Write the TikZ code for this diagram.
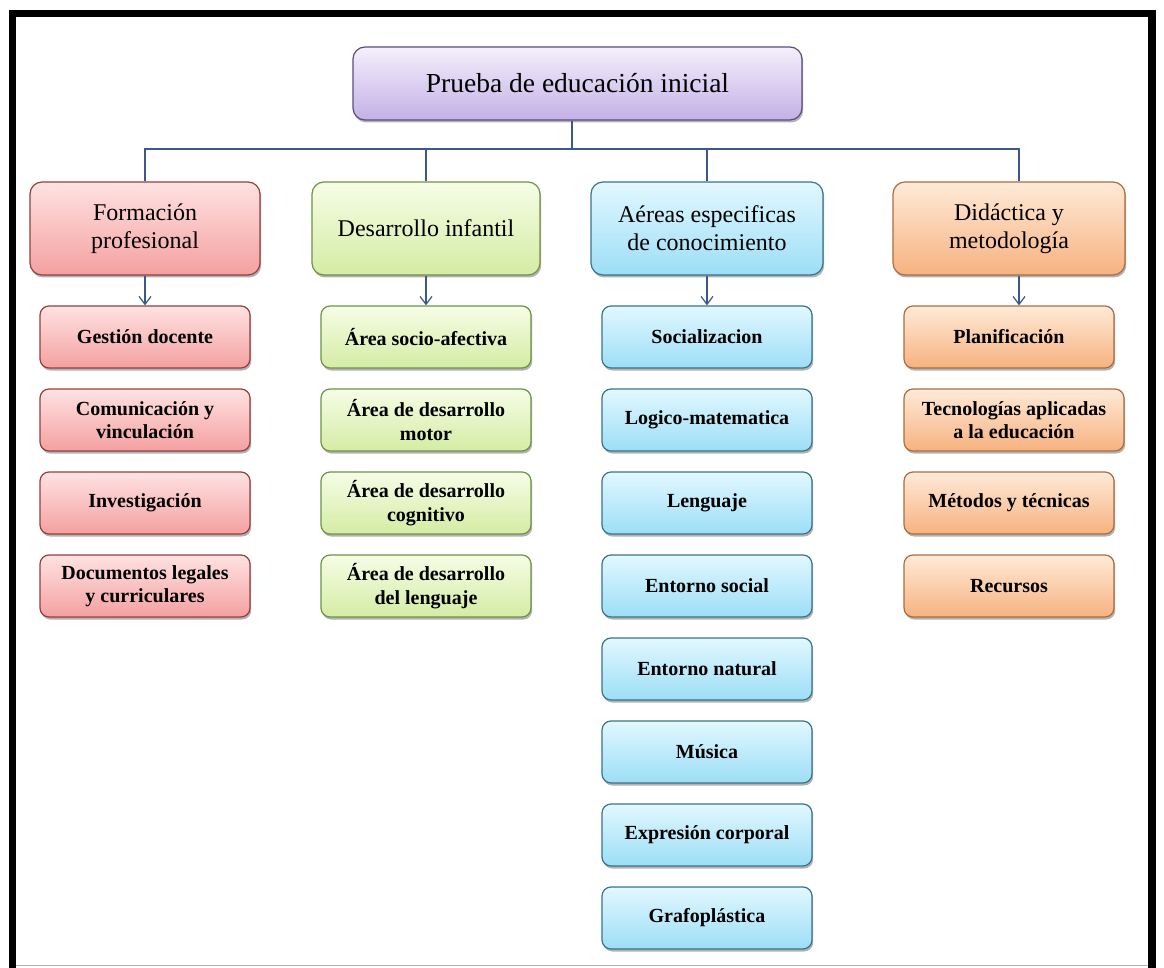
\documentclass[tikz,border=0pt]{standalone}
\usepackage{fontspec}
\setmainfont{Liberation Serif}
\usetikzlibrary{arrows.meta,shadows}
\definecolor{lnc}{RGB}{58,88,138}
\definecolor{rootT}{RGB}{244,240,252}
\definecolor{rootB}{RGB}{196,176,230}
\definecolor{rootD}{RGB}{92,76,124}
\definecolor{redT}{RGB}{255,226,226}
\definecolor{redB}{RGB}{244,160,160}
\definecolor{redD}{RGB}{150,62,62}
\definecolor{grnT}{RGB}{246,253,230}
\definecolor{grnB}{RGB}{212,236,164}
\definecolor{grnD}{RGB}{112,146,70}
\definecolor{cyaT}{RGB}{226,248,255}
\definecolor{cyaB}{RGB}{156,222,246}
\definecolor{cyaD}{RGB}{56,116,140}
\definecolor{orgT}{RGB}{255,234,216}
\definecolor{orgB}{RGB}{246,178,128}
\definecolor{orgD}{RGB}{172,108,62}
\begin{document}
\begin{tikzpicture}[x=1pt,y=-1pt,
  box/.style={rectangle, rounded corners=12pt, line width=1.2pt, align=center,
    inner sep=2pt, text=black,
    drop shadow={shadow xshift=1.2pt, shadow yshift=-2.5pt, opacity=0.3, fill=black}},
  rootbox/.style={box, minimum width=449pt, minimum height=73pt,
    draw=rootD, top color=rootT, bottom color=rootB,
    font=\fontsize{27.5}{32}\selectfont},
  hdr/.style={box, minimum width=230pt, minimum height=93pt,
    font=\fontsize{24}{28}\selectfont},
  chd/.style={box, rounded corners=9pt, minimum width=210pt, minimum height=62pt,
    font=\bfseries\fontsize{20}{23.5}\selectfont},
  fr/.style={draw=redD, top color=redT, bottom color=redB},
  fg/.style={draw=grnD, top color=grnT, bottom color=grnB},
  fc/.style={draw=cyaD, top color=cyaT, bottom color=cyaB},
  fo/.style={draw=orgD, top color=orgT, bottom color=orgB},
  conn/.style={draw=lnc, line width=1.3pt},
  arr/.style={conn, -{Straight Barb[length=8pt,width=12pt,line width=1.2pt]}}
]
\useasboundingbox (0,0) rectangle (1164,968);
\fill[white] (0,0) rectangle (1164,968);
% frame
\fill[black] (9,10) rectangle (16,968);
\fill[black] (9,10) rectangle (1156,17);
\fill[black] (1148,10) rectangle (1156,968);
\draw[gray!60, line width=1pt] (16,965.5) -- (1148,965.5);

% root
\node[rootbox] (root) at (577.5,83.5) {Prueba de educación inicial};

% headers
\node[hdr,fr] (h1) at (145,228.5) {Formación\\profesional};
\node[hdr,fg,minimum width=228pt] (h2) at (426,228.5) {Desarrollo infantil};
\node[hdr,fc,minimum width=232pt] (h3) at (707,228.5) {Aéreas especificas\\de conocimiento};
\node[hdr,fo,minimum width=232pt] (h4) at (1009,228.5) {Didáctica y\\metodología};

% red children
\node[chd,fr] (r1) at (145,337) {Gestión docente};
\node[chd,fr] (r2) at (145,420) {Comunicación y\\vinculación};
\node[chd,fr] (r3) at (145,503) {Investigación};
\node[chd,fr] (r4) at (145,586) {Documentos legales\\y curriculares};

% green children
\node[chd,fg] (g1) at (426,337) {Área socio-afectiva};
\node[chd,fg] (g2) at (426,420) {Área de desarrollo\\motor};
\node[chd,fg] (g3) at (426,503) {Área de desarrollo\\cognitivo};
\node[chd,fg] (g4) at (426,586) {Área de desarrollo\\del lenguaje};

% cyan children
\node[chd,fc] (c1) at (707,337) {Socializacion};
\node[chd,fc] (c2) at (707,420) {Logico-matematica};
\node[chd,fc] (c3) at (707,503) {Lenguaje};
\node[chd,fc] (c4) at (707,586) {Entorno social};
\node[chd,fc] (c5) at (707,669) {Entorno natural};
\node[chd,fc] (c6) at (707,752) {Música};
\node[chd,fc] (c7) at (707,835) {Expresión corporal};
\node[chd,fc] (c8) at (707,918) {Grafoplástica};

% orange children
\node[chd,fo] (o1) at (1009,337) {Planificación};
\node[chd,fo,minimum width=220pt] (o2) at (1014,420) {Tecnologías aplicadas\\a la educación};
\node[chd,fo] (o3) at (1009,503) {Métodos y técnicas};
\node[chd,fo] (o4) at (1009,586) {Recursos};

% connectors
\coordinate (j0) at (572,149);
\coordinate (d4) at (1019,0);
\draw[conn] (root.south -| j0) -- (j0);
\draw[conn] (h1.north) |- (j0) -| (h4.north -| d4);
\draw[conn] (h2.north) -- (h2.north |- j0);
\draw[conn] (h3.north) -- (h3.north |- j0);

\draw[arr] (h1.south) -- (r1.north);
\draw[arr] (h2.south) -- (g1.north);
\draw[arr] (h3.south) -- (c1.north);
\draw[arr] (h4.south -| d4) -- (o1.north -| d4);
\end{tikzpicture}
\end{document}
